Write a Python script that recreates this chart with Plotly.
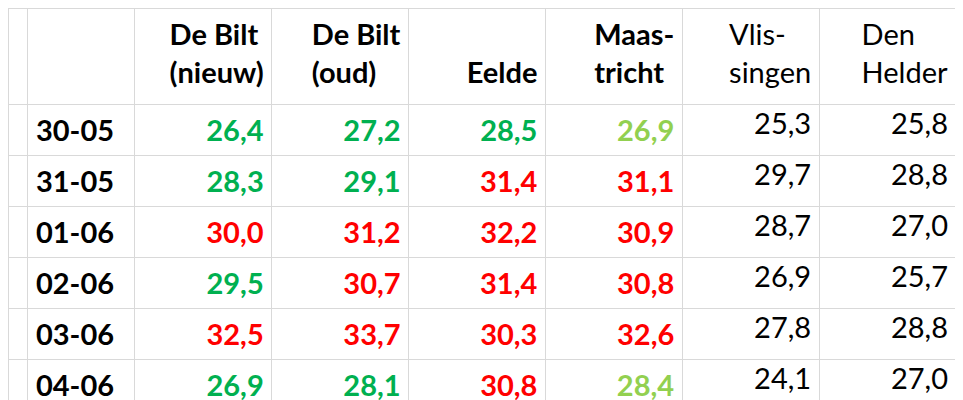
import plotly.graph_objects as go

dates = ['30-05', '31-05', '01-06', '02-06', '03-06', '04-06']
stations = ['De Bilt<br>(nieuw)', 'De Bilt<br>(oud)', '&nbsp;<br>Eelde', 'Maas-<br>tricht', 'Vlis-<br>singen', 'Den<br>Helder']
bilt_nieuw = [26.4, 28.3, 30.0, 29.5, 32.5, 26.9]
bilt_oud = [27.2, 29.1, 31.2, 30.7, 33.7, 28.1]
eelde = [28.5, 31.4, 32.2, 31.4, 30.3, 30.8]
maastricht = [26.9, 31.1, 30.9, 30.8, 32.6, 28.4]
vlissingen = [25.3, 29.7, 28.7, 26.9, 27.8, 24.1]
den_helder = [25.8, 28.8, 27.0, 25.7, 28.8, 27.0]

# kleur per cel: g = groen, lg = lichtgroen, r = rood, k = zwart
status = [
    ['g', 'g', 'r', 'g', 'r', 'g'],
    ['g', 'g', 'r', 'r', 'r', 'g'],
    ['g', 'r', 'r', 'r', 'r', 'r'],
    ['lg', 'r', 'r', 'r', 'r', 'lg'],
    ['k'] * 6,
    ['k'] * 6,
]
palette = {'g': '#00b050', 'lg': '#92d050', 'r': '#ff0000', 'k': '#000000'}

def fmt(vals, bold):
    s = [f'{v:.1f}'.replace('.', ',') for v in vals]
    return [f'<b>{t}</b>' for t in s] if bold else s

series = [bilt_nieuw, bilt_oud, eelde, maastricht, vlissingen, den_helder]
bold = [True, True, True, True, False, False]

cells = [[''] * 6, [f'<b>{d}</b>' for d in dates]] + [fmt(v, b) for v, b in zip(series, bold)]
colors = [['black'] * 6, ['black'] * 6] + [[palette[c] for c in col] for col in status]
headers = ['', ''] + [f'<b>{s}</b>' if b else s for s, b in zip(stations, bold)]

fig = go.Figure(go.Table(
    domain=dict(x=[0, 0.985], y=[0, 1]),
    columnwidth=[20, 107, 137, 137, 137, 137, 137, 137],
    header=dict(values=headers, height=96, align=['left', 'left'] + ['right'] * 6,
                fill_color='white', line_color='#d9d9d9',
                font=dict(family='Lato', size=29, color='black')),
    cells=dict(values=cells, height=47, align=['left', 'left'] + ['right'] * 6,
               fill_color='white', line_color='#d9d9d9',
               font=dict(family='Lato', size=29, color=colors)),
))
fig.update_layout(width=963, height=400, margin=dict(l=0, r=0, t=0, b=0),
                  paper_bgcolor='white')
fig.write_html('out.html')
